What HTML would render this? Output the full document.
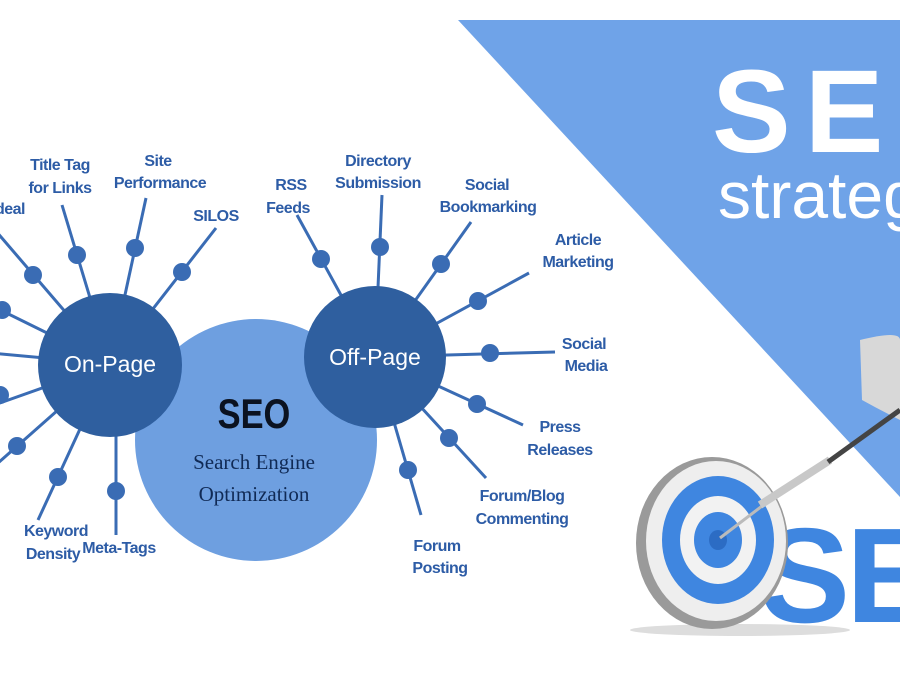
<!DOCTYPE html>
<html><head><meta charset="utf-8"><style>
html,body{margin:0;padding:0;background:#fff;}
svg{display:block}
.l{font-family:"Liberation Sans",sans-serif;font-weight:bold;font-size:16px;fill:#2d5ca6;text-anchor:middle;letter-spacing:-0.5px}
</style></head><body>
<svg width="900" height="700" viewBox="0 0 900 700" xmlns="http://www.w3.org/2000/svg">
<rect width="900" height="700" fill="#fff"/>
<polygon points="458,20 900,20 900,497" fill="#6fa3e8"/>
<text x="712" y="152" font-family="Liberation Sans,sans-serif" font-weight="bold" font-size="118" fill="#fff" letter-spacing="14">SE</text>
<text x="718" y="218" font-family="Liberation Sans,sans-serif" font-size="66" fill="#fff">strateg</text>

<g stroke="#3a6cb4" stroke-width="3">
<line x1="110" y1="364" x2="-5" y2="230"/>
<line x1="110" y1="364" x2="62" y2="205"/>
<line x1="110" y1="364" x2="146" y2="198"/>
<line x1="110" y1="364" x2="216" y2="228"/>
<line x1="110" y1="364" x2="-20" y2="300"/>
<line x1="110" y1="364" x2="-20" y2="352"/>
<line x1="110" y1="364" x2="-20" y2="410"/>
<line x1="110" y1="364" x2="-20" y2="479"/>
<line x1="110" y1="364" x2="38" y2="520"/>
<line x1="116" y1="400" x2="116" y2="535"/>
<line x1="375" y1="357" x2="297" y2="215"/>
<line x1="375" y1="357" x2="382" y2="195"/>
<line x1="375" y1="357" x2="471" y2="222"/>
<line x1="375" y1="357" x2="529" y2="273"/>
<line x1="375" y1="357" x2="555" y2="352"/>
<line x1="375" y1="357" x2="523" y2="425"/>
<line x1="375" y1="357" x2="486" y2="478"/>
<line x1="375" y1="357" x2="421" y2="515"/>
</g>
<g fill="#3a6cb4">
<circle cx="33" cy="275" r="9"/><circle cx="77" cy="255" r="9"/><circle cx="135" cy="248" r="9"/><circle cx="182" cy="272" r="9"/>
<circle cx="2" cy="310" r="9"/><circle cx="0" cy="395" r="9"/><circle cx="17" cy="446" r="9"/><circle cx="58" cy="477" r="9"/><circle cx="116" cy="491" r="9"/>
<circle cx="321" cy="259" r="9"/><circle cx="380" cy="247" r="9"/><circle cx="441" cy="264" r="9"/><circle cx="478" cy="301" r="9"/>
<circle cx="490" cy="353" r="9"/><circle cx="477" cy="404" r="9"/><circle cx="449" cy="438" r="9"/><circle cx="408" cy="470" r="9"/>
</g>
<circle cx="256" cy="440" r="121" fill="#6e9fe0"/>
<circle cx="110" cy="365" r="72" fill="#2f5f9f"/>
<circle cx="375" cy="357" r="71" fill="#2f5f9f"/>
<text x="110" y="372" font-family="Liberation Sans,sans-serif" font-size="23" fill="#fff" text-anchor="middle">On-Page</text>
<text x="375" y="365" font-family="Liberation Sans,sans-serif" font-size="23" fill="#fff" text-anchor="middle">Off-Page</text>
<text x="254" y="428" font-family="Liberation Sans,sans-serif" font-weight="bold" font-size="42" fill="#0b1220" text-anchor="middle" transform="translate(254,0) scale(0.82,1) translate(-254,0)">SEO</text>
<text x="254" y="469" font-family="Liberation Serif,serif" font-size="21" fill="#102a55" text-anchor="middle">Search Engine</text>
<text x="254" y="501" font-family="Liberation Serif,serif" font-size="21" fill="#102a55" text-anchor="middle">Optimization</text>

<text class="l" x="8" y="214" text-anchor="end">Ideal</text>
<text class="l" x="60" y="170">Title Tag</text><text class="l" x="60" y="193">for Links</text>
<text class="l" x="158" y="166">Site</text><text class="l" x="160" y="188">Performance</text>
<text class="l" x="216" y="221">SILOS</text>
<text class="l" x="291" y="190">RSS</text><text class="l" x="288" y="213">Feeds</text>
<text class="l" x="378" y="166">Directory</text><text class="l" x="378" y="188">Submission</text>
<text class="l" x="487" y="190">Social</text><text class="l" x="488" y="212">Bookmarking</text>
<text class="l" x="578" y="245">Article</text><text class="l" x="578" y="267">Marketing</text>
<text class="l" x="584" y="349">Social</text><text class="l" x="586" y="371">Media</text>
<text class="l" x="560" y="432">Press</text><text class="l" x="560" y="455">Releases</text>
<text class="l" x="522" y="501">Forum/Blog</text><text class="l" x="522" y="524">Commenting</text>
<text class="l" x="437" y="551">Forum</text><text class="l" x="440" y="573">Posting</text>
<text class="l" x="56" y="536" text-anchor="end">Keyword</text><text class="l" x="53" y="559" text-anchor="end">Density</text>
<text class="l" x="119" y="553">Meta-Tags</text>

<ellipse cx="740" cy="630" rx="110" ry="6" fill="#ddd"/>
<path d="M860,340 Q900,330 900,340 L900,420 Q880,410 862,400 Z" fill="#d8d8d8"/>
<text x="760" y="622" font-family="Liberation Sans,sans-serif" font-weight="bold" font-size="135" fill="#3f86e0" letter-spacing="-4">SE</text>
<ellipse cx="712" cy="543" rx="76" ry="86" fill="#9a9a9a"/>
<ellipse cx="716" cy="541" rx="70" ry="80" fill="#eeeeee"/>
<ellipse cx="718" cy="540" rx="56" ry="64" fill="#3f86e0"/>
<ellipse cx="718" cy="540" rx="38" ry="44" fill="#f2f2f2"/>
<ellipse cx="718" cy="540" rx="24" ry="28" fill="#3f86e0"/>
<ellipse cx="718" cy="540" rx="9" ry="10" fill="#2c6cc4"/>
<line x1="720" y1="538" x2="770" y2="500" stroke="#bbb" stroke-width="3"/>
<line x1="760" y1="505" x2="830" y2="460" stroke="#c8c8c8" stroke-width="8"/>
<line x1="828" y1="462" x2="900" y2="410" stroke="#444" stroke-width="5"/>
</svg>
</body></html>
